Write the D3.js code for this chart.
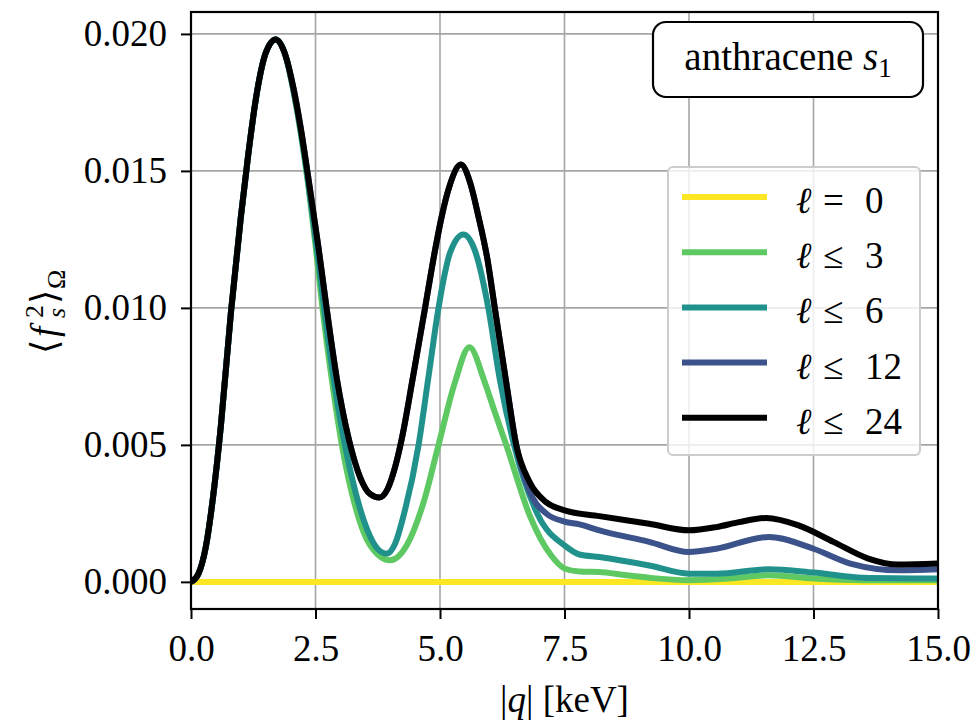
<!DOCTYPE html>
<html>
<head>
<meta charset="utf-8">
<script src="https://cdn.jsdelivr.net/npm/d3@7"></script>
<style>
  html, body { margin: 0; padding: 0; background: #fff; }
  svg { display: block; }
  text { font-family: "Liberation Serif", "DejaVu Serif", serif; fill: #000; }
</style>
</head>
<body>
<svg id="chart" width="979" height="721"></svg>
<script>
// ---------- data ----------
const xTicks = [0, 2.5, 5, 7.5, 10, 12.5, 15];
const yTicks = [0, 0.005, 0.010, 0.015, 0.020];

const seriesLabels = ["= 0", "≤ 3", "≤ 6", "≤ 12", "≤ 24"];
const seriesColors = ["#fde725", "#5ec962", "#21918c", "#3b528b", "#000000"];

const l0_q = [0, 5, 10, 15];
const l0_v = [0, 0, 0, 0];

const l3_q = [0,0.15,0.3,0.45,0.6,0.8,1.0,1.15,1.3,1.5,1.7,1.9,2.06,2.2,2.36,2.5,2.64,2.85,3.03,3.25,3.47,3.75,4.0,4.33,4.67,4.97,5.3,5.59,5.9,6.1,6.33,6.8,7.23,7.5,7.8,8.2,8.7,9.2,10.0,10.8,11.6,12.5,13.5,15.0];
const l3_v = [0,0.0003,0.0013,0.0032,0.0057,0.0098,0.0133,0.0156,0.0176,0.0193,0.0198,0.0192,0.0179,0.0164,0.0144,0.0123,0.0100,0.0071,0.0050,0.0031,0.0018,0.0010,0.00079,0.00133,0.0029,0.0050,0.00728,0.00856,0.00728,0.0062,0.0050,0.00243,0.00097,0.00049,0.00038,0.00036,0.00025,0.00015,0.00006,0.00012,0.00024,0.00012,0.00006,0.00006];

const l6_q = [0,0.15,0.3,0.45,0.6,0.8,1.0,1.15,1.3,1.5,1.7,1.9,2.06,2.2,2.36,2.56,2.7,2.9,3.09,3.3,3.54,3.75,3.93,4.1,4.27,4.57,4.77,4.97,5.2,5.47,5.7,5.97,6.2,6.5,6.97,7.5,7.8,8.2,9.2,10.0,10.55,11.6,12.5,13.5,15.0];
const l6_v = [0,0.0003,0.0013,0.0032,0.0057,0.0098,0.0133,0.0156,0.0176,0.0193,0.0198,0.0192,0.0179,0.0165,0.0145,0.0117,0.0096,0.0070,0.0050,0.0033,0.0019,0.0012,0.00103,0.0014,0.00243,0.0050,0.0075,0.0100,0.0120,0.01268,0.0121,0.0100,0.0074,0.0049,0.00243,0.00133,0.0010,0.00091,0.0006,0.0003,0.0003,0.00046,0.00034,0.00015,0.00012];

const l12_q = [0,0.15,0.3,0.45,0.6,0.8,1.0,1.15,1.3,1.5,1.7,1.9,2.06,2.2,2.36,2.56,2.7,2.93,3.17,3.4,3.6,3.78,3.95,4.1,4.23,4.45,4.7,4.9,5.03,5.2,5.42,5.6,5.77,5.95,6.1,6.33,6.53,6.8,7.13,7.5,7.8,8.2,9.2,10.0,10.55,11.6,12.5,13.24,14.24,15.0];
const l12_v = [0,0.0003,0.0013,0.0032,0.0057,0.0098,0.0133,0.0156,0.0176,0.0193,0.0198,0.0192,0.0180,0.0166,0.0147,0.0122,0.0103,0.0074,0.0052,0.0038,0.0032,0.00308,0.0034,0.0042,0.0052,0.0074,0.0100,0.0121,0.0133,0.0145,0.01523,0.0146,0.01335,0.0118,0.0100,0.00728,0.0050,0.0033,0.0025,0.0022,0.0021,0.00188,0.00146,0.00109,0.00121,0.00164,0.00121,0.00067,0.00042,0.00046];

const l24_q = [0,0.15,0.3,0.45,0.6,0.8,1.0,1.15,1.3,1.5,1.7,1.9,2.06,2.2,2.36,2.56,2.7,2.93,3.17,3.4,3.6,3.78,3.95,4.1,4.23,4.45,4.7,4.9,5.03,5.2,5.42,5.6,5.77,5.95,6.1,6.33,6.53,6.8,7.13,7.5,8.2,9.2,10.0,10.55,11.0,11.55,12.2,12.9,13.6,14.2,15.0];
const l24_v = [0,0.0003,0.0013,0.0032,0.0057,0.0098,0.0133,0.0156,0.0176,0.0193,0.0198,0.0192,0.0180,0.0166,0.0147,0.0122,0.0103,0.0074,0.0052,0.0038,0.0032,0.00308,0.0034,0.0042,0.0052,0.0074,0.0100,0.0121,0.0133,0.0145,0.01523,0.0146,0.01335,0.0118,0.0100,0.00728,0.0050,0.00364,0.00291,0.00261,0.0024,0.00212,0.00188,0.0020,0.00218,0.00233,0.00206,0.00146,0.00085,0.00063,0.00067];

const seriesQ = [l0_q, l3_q, l6_q, l12_q, l24_q];
const seriesV = [l0_v, l3_v, l6_v, l12_v, l24_v];

// ---------- layout ----------
const W = 979, H = 721;
const M = { left: 191, right: 41, top: 12, bottom: 112 };
const iw = W - M.left - M.right, ih = H - M.top - M.bottom;
const FS = 37;

const svg = d3.select("#chart");
const g = svg.append("g").attr("transform", `translate(${M.left},${M.top})`);

const x = d3.scaleLinear().domain([0, 15]).range([0, iw]);
const y = d3.scaleLinear().domain([-0.00099, 0.0208]).range([ih, 0]);

// grid
g.append("g").selectAll("line").data(xTicks).join("line")
  .attr("x1", d => x(d)).attr("x2", d => x(d)).attr("y1", 0).attr("y2", ih)
  .attr("stroke", "#a6a6a6").attr("stroke-width", 1.6);
g.append("g").selectAll("line").data(yTicks).join("line")
  .attr("y1", d => y(d)).attr("y2", d => y(d)).attr("x1", 0).attr("x2", iw)
  .attr("stroke", "#a6a6a6").attr("stroke-width", 1.6);

// lines
svg.append("defs").append("clipPath").attr("id", "clip")
  .append("rect").attr("x", 0).attr("y", 0).attr("width", iw).attr("height", ih);

const line = d3.line().x(d => x(d[0])).y(d => y(d[1])).curve(d3.curveMonotoneX);
const lg = g.append("g").attr("clip-path", "url(#clip)");
seriesQ.forEach((qs, i) => {
  const pts = qs.map((q, j) => [q, seriesV[i][j]]);
  lg.append("path").datum(pts).attr("d", line)
    .attr("fill", "none").attr("stroke", seriesColors[i])
    .attr("stroke-width", 6).attr("stroke-linejoin", "round").attr("stroke-linecap", "butt");
});

// axes
const xAxis = d3.axisBottom(x).tickValues(xTicks).tickFormat(d3.format(".1f"))
  .tickSize(10).tickSizeOuter(0).tickPadding(16);
const yAxis = d3.axisLeft(y).tickValues(yTicks).tickFormat(d3.format(".3f"))
  .tickSize(10).tickSizeOuter(0).tickPadding(14);

const gx = g.append("g").attr("transform", `translate(0,${ih})`).call(xAxis);
const gy = g.append("g").call(yAxis);
[gx, gy].forEach(a => {
  a.select(".domain").remove();
  a.selectAll(".tick line").attr("stroke", "#000").attr("stroke-width", 2);
  a.selectAll(".tick text").attr("font-size", FS)
    .attr("font-family", "'Liberation Serif', serif").attr("fill", "#000");
});

// frame
g.append("rect").attr("x", 0).attr("y", 0).attr("width", iw).attr("height", ih)
  .attr("fill", "none").attr("stroke", "#000").attr("stroke-width", 2.2);

// x label
const xl = svg.append("text").attr("x", M.left + iw / 2).attr("y", 712)
  .attr("text-anchor", "middle").attr("font-size", FS);
xl.append("tspan").text("|");
xl.append("tspan").attr("font-style", "italic").text("q");
xl.append("tspan").text("| [keV]");

// y label
const yl = svg.append("g").attr("transform", "translate(57,310) rotate(-90)");
yl.append("text").attr("x", -44).attr("y", 0).attr("font-size", FS).text("⟨");
yl.append("text").attr("x", -27).attr("y", 0).attr("font-size", FS).attr("font-style", "italic").text("f");
yl.append("text").attr("x", -8).attr("y", -14).attr("font-size", 26).text("2");
yl.append("text").attr("x", -8).attr("y", 8).attr("font-size", 26).attr("font-style", "italic").text("s");
yl.append("text").attr("x", 6).attr("y", 0).attr("font-size", FS).text("⟩");
yl.append("text").attr("x", 21).attr("y", 8).attr("font-size", 26).text("Ω");

// annotation box
svg.append("rect").attr("x", 653).attr("y", 22).attr("width", 270).attr("height", 75)
  .attr("rx", 13).attr("ry", 13).attr("fill", "#fff").attr("stroke", "#000").attr("stroke-width", 2.2);
const at = svg.append("text").attr("x", 788).attr("y", 70).attr("text-anchor", "middle").attr("font-size", 39);
at.append("tspan").text("anthracene ");
at.append("tspan").attr("font-style", "italic").text("s");
at.append("tspan").attr("font-size", 27).attr("dy", 7).text("1");

// legend
const leg = svg.append("g");
leg.append("rect").attr("x", 668).attr("y", 167).attr("width", 252).attr("height", 288)
  .attr("rx", 5).attr("ry", 5).attr("fill", "#fff").attr("fill-opacity", 0.8)
  .attr("stroke", "#cccccc").attr("stroke-width", 2);
seriesLabels.forEach((lab, i) => {
  const ly = 197 + i * 55.2;
  leg.append("line").attr("x1", 682).attr("x2", 767).attr("y1", ly).attr("y2", ly)
    .attr("stroke", seriesColors[i]).attr("stroke-width", 6);
  const t = leg.append("text").attr("y", ly + 16).attr("font-size", FS);
  t.append("tspan").attr("x", 796).attr("font-style", "italic").text("ℓ");
  const parts = lab.split(" ");
  t.append("tspan").attr("x", 823).text(parts[0]);
  t.append("tspan").attr("x", 865).text(parts[1]);
});
</script>
</body>
</html>
